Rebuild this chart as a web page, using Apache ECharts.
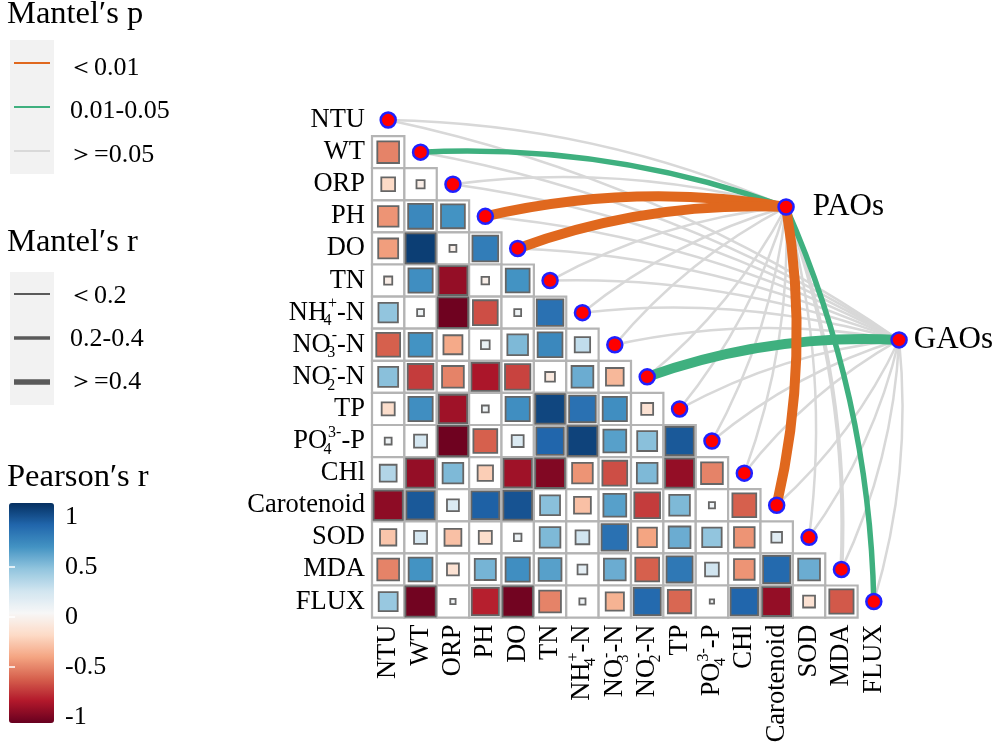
<!DOCTYPE html>
<html><head><meta charset="utf-8">
<script src="https://cdn.jsdelivr.net/npm/echarts@6/dist/echarts.min.js"></script>
<style>html,body{margin:0;padding:0;background:#fff}#c{width:1000px;height:745px}</style>
</head><body><div id="c"></div>
<script>
// ---------------- data ----------------
const variables = ['NTU','WT','ORP','PH','DO','TN','NH4+-N','NO3--N','NO2--N','TP','PO43--P','CHl','Carotenoid','SOD','MDA','FLUX'];
// Pearson's r, lower triangle: row i holds r(i, j) for j < i
const pearsonR = [
  [],
  [-0.5],
  [-0.2, -0.07],
  [-0.45, 0.65, 0.6],
  [-0.42, 0.95, -0.05, 0.7],
  [-0.07, 0.62, -0.88, -0.06, 0.6],
  [0.4, 0.05, -0.98, -0.65, 0.05, 0.75],
  [-0.6, 0.6, -0.38, 0.08, 0.45, 0.65, 0.25],
  [0.42, -0.7, -0.5, -0.82, -0.68, -0.1, 0.5, -0.33],
  [-0.18, 0.62, -0.85, 0.05, 0.62, 0.92, 0.75, 0.62, -0.15],
  [0.05, 0.18, -0.98, -0.6, 0.15, 0.8, 0.93, 0.55, 0.42, 0.85],
  [0.3, -0.88, 0.45, -0.25, -0.85, -0.93, -0.45, -0.65, 0.45, -0.88, -0.5],
  [-0.9, 0.85, 0.15, 0.82, 0.87, 0.42, -0.3, 0.55, -0.7, 0.45, 0.04, -0.6],
  [-0.28, 0.18, -0.3, -0.18, 0.06, 0.45, 0.2, 0.75, -0.4, 0.5, 0.4, -0.45, 0.12],
  [-0.5, 0.6, -0.15, 0.47, 0.62, 0.55, 0.1, 0.5, -0.6, 0.72, 0.2, -0.45, 0.78, 0.5],
  [0.38, -0.97, 0.03, -0.78, -0.97, -0.5, 0.04, -0.35, 0.78, -0.58, 0.02, 0.8, -0.88, -0.15, -0.62]
];
const mantelNodes = ['PAOs', 'GAOs'];
// node anchor in grid units (column index, row index)
const nodeAnchor = [[12.29, 2.71], [15.78, 6.85]];
// Mantel's p class per variable: 0 '<0.01', 1 '0.01-0.05', 2 '>=0.05'
const mantelPClass = [
  [2, 1, 2, 0, 0, 2, 2, 2, 2, 2, 2, 2, 0, 2, 2, 1],
  [2, 2, 2, 2, 2, 2, 2, 2, 1, 2, 2, 2, 2, 2, 2, 2]
];
// Mantel's r class per variable: 0 '<0.2', 1 '0.2-0.4', 2 '>=0.4'
const mantelRClass = [
  [0, 1, 0, 2, 2, 0, 0, 0, 0, 0, 0, 0, 2, 0, 1, 1],
  [0, 0, 0, 0, 0, 0, 0, 0, 2, 0, 0, 0, 0, 0, 0, 0]
];
const pClassLabels = ['＜0.01', '0.01-0.05', '＞=0.05'];
const rClassLabels = ['＜0.2', '0.2-0.4', '＞=0.4'];
const colorbarTicks = [-1, -0.5, 0, 0.5, 1];

// ---------------- styling ----------------
const FONT = 'Liberation Serif';
const pColors = ['#E0681E', '#3FB07F', '#D8D8D8'];
const rWidths = [2.5, 5.5, 10];
const rdbu = ['#67001F','#B2182B','#D6604D','#F4A582','#FDDBC7','#F7F7F7','#D1E5F0','#92C5DE','#4393C3','#2166AC','#053061'];
const G = {left: 372, top: 104, width: 518, height: 513.6};
const N = variables.length;
const cellW = G.width / N, cellH = G.height / N;

const chem = {
  'NH4+-N': ['NH', '4', '+', '-N'],
  'NO3--N': ['NO', '3', '-', '-N'],
  'NO2--N': ['NO', '2', '-', '-N'],
  'PO43--P': ['PO', '4', '3-', '-P']
};
function fmt(name) {
  const c = chem[name];
  if (!c) return '{t|' + name + '}';
  return '{t|' + c[0] + '}{sb|' + c[1] + '}{sp|' + c[2] + '}{t|' + c[3] + '}';
}
const rich = {
  t: {fontSize: 26.5, fontFamily: FONT, color: '#000', lineHeight: 33},
  sb: {fontSize: 16, fontFamily: FONT, color: '#000', lineHeight: 16, verticalAlign: 'bottom', width: 1, align: 'left'},
  sp: {fontSize: 16, fontFamily: FONT, color: '#000', lineHeight: 16, verticalAlign: 'top'}
};

// ---------------- build series data ----------------
const cellData = [], squareData = [], diagData = [];
for (let i = 0; i < N; i++) {
  diagData.push([i, i]);
  pearsonR[i].forEach((r, j) => {
    cellData.push([j, i]);
    squareData.push([j, i, r]);
  });
}
const lineData = [[], [], []];
mantelNodes.forEach((nm, n) => {
  const a = nodeAnchor[n];
  for (let i = 0; i < N; i++) {
    const dx = (i - a[0]) * cellW, dy = (i - a[1]) * cellH;
    const cv = (dx + dy) > 0 ? 0.1 : -0.1;
    const pc = mantelPClass[n][i];
    lineData[pc].push({
      coords: [a, [i, i]],
      lineStyle: {width: rWidths[mantelRClass[n][i]] * (pc === 2 && mantelRClass[n][i] === 1 ? 0.75 : 1), curveness: cv}
    });
  }
});
const lineSeries = [2, 1, 0].map(pc => ({
  type: 'lines', coordinateSystem: 'cartesian2d', xAxisIndex: 0, yAxisIndex: 0,
  clip: false, z: 1, silent: true,
  lineStyle: {color: pColors[pc], opacity: 1, cap: 'butt'},
  data: lineData[pc]
}));

const TXT = (x, y, text, size) => ({type: 'text', x: x, y: y,
  style: {text: text, font: size + 'px "Liberation Serif"', fill: '#000', verticalAlign: 'middle'}});

const chart = echarts.init(document.getElementById('c'));
const option = {
  animation: false,
  backgroundColor: '#fff',
  grid: [
    Object.assign({outerBoundsMode: 'none', containLabel: false}, G),
    {left: 9, top: 517, width: 45, height: 200, outerBoundsMode: 'none'}
  ],
  xAxis: [
    {type: 'value', gridIndex: 0, min: -0.5, max: 15.5, show: false, position: 'top'},
    {type: 'category', gridIndex: 0, data: variables, position: 'bottom',
      axisLine: {show: false}, axisTick: {show: false},
      axisLabel: {interval: 0, rotate: 90, margin: 7, formatter: fmt, rich: rich}},
    {type: 'value', gridIndex: 1, show: false}
  ],
  yAxis: [
    {type: 'value', gridIndex: 0, min: -0.5, max: 15.5, inverse: true, show: false, position: 'right'},
    {type: 'category', gridIndex: 0, data: variables, inverse: true, position: 'left',
      axisLine: {show: false}, axisTick: {show: false},
      axisLabel: {interval: 0, margin: 7, formatter: fmt, rich: rich}},
    {type: 'value', gridIndex: 1, min: -1, max: 1, interval: 0.5, position: 'right', z: 20,
      axisLine: {show: false}, splitLine: {show: false},
      axisTick: {show: true, inside: true, length: 6, customValues: [-0.5, 0, 0.5], lineStyle: {color: '#fff', width: 1.5}},
      axisLabel: {customValues: colorbarTicks, margin: 11, fontSize: 26, fontFamily: FONT, color: '#000',
        formatter: v => String(v)}},
    {type: 'value', gridIndex: 1, min: -1, max: 1, interval: 0.5, position: 'left', z: 20,
      axisLine: {show: false}, splitLine: {show: false}, axisLabel: {show: false},
      axisTick: {show: true, inside: true, length: 6, customValues: [-0.5, 0, 0.5], lineStyle: {color: '#fff', width: 1.5}}}
  ],
  visualMap: {
    type: 'continuous', min: -1, max: 1, dimension: 2, seriesIndex: 4, z: 2,
    inRange: {color: rdbu}, calculable: false, hoverLink: false,
    left: 9, top: 503, itemWidth: 45, itemHeight: 220, padding: 0, text: null, showLabel: false
  },
  series: lineSeries.concat([
    {type: 'scatter', xAxisIndex: 0, yAxisIndex: 0, z: 2, silent: true, symbol: 'rect',
      symbolSize: [cellW, cellH],
      itemStyle: {color: '#fff', borderColor: '#b4b4b4', borderWidth: 2.2, opacity: 1},
      data: cellData},
    {type: 'scatter', xAxisIndex: 0, yAxisIndex: 0, z: 3, silent: true, symbol: 'rect',
      symbolSize: v => Math.sqrt(Math.abs(v[2])) * cellW * 0.95,
      itemStyle: {borderColor: '#666666', borderWidth: 1.8, opacity: 1},
      data: squareData},
    {type: 'scatter', xAxisIndex: 0, yAxisIndex: 0, z: 5, silent: true, symbol: 'circle', symbolSize: 15,
      itemStyle: {color: '#ff0000', borderColor: '#2020ff', borderWidth: 2.5, opacity: 1},
      data: diagData},
    {type: 'scatter', xAxisIndex: 0, yAxisIndex: 0, z: 5, silent: true, clip: false, symbol: 'circle', symbolSize: 15,
      itemStyle: {color: '#ff0000', borderColor: '#2020ff', borderWidth: 2.5, opacity: 1},
      label: {show: true, position: 'right', fontSize: 31, fontFamily: FONT, color: '#000', formatter: p => p.name},
      data: mantelNodes.map((nm, n) => ({name: nm, value: nodeAnchor[n], label: {distance: n === 0 ? 18 : 6}}))}
  ]),
  graphic: [
    TXT(7, 14.5, 'Mantel′s p', 32.5),
    {type: 'rect', shape: {x: 10, y: 40, width: 44, height: 134}, style: {fill: '#f2f2f2'}},
    {type: 'line', shape: {x1: 14, y1: 63, x2: 50, y2: 63}, style: {stroke: pColors[0], lineWidth: 2}},
    {type: 'line', shape: {x1: 14, y1: 107, x2: 50, y2: 107}, style: {stroke: pColors[1], lineWidth: 2}},
    {type: 'line', shape: {x1: 14, y1: 151, x2: 50, y2: 151}, style: {stroke: '#d9d9d9', lineWidth: 2}},
    TXT(68, 68, pClassLabels[0], 26),
    TXT(70, 111, pClassLabels[1], 26),
    TXT(68, 155, pClassLabels[2], 26),
    TXT(7, 242.5, 'Mantel′s r', 32.5),
    {type: 'rect', shape: {x: 10, y: 272, width: 44, height: 133}, style: {fill: '#f2f2f2'}},
    {type: 'line', shape: {x1: 14, y1: 294, x2: 50, y2: 294}, style: {stroke: '#5a5a5a', lineWidth: 2}},
    {type: 'line', shape: {x1: 14, y1: 338, x2: 50, y2: 338}, style: {stroke: '#5a5a5a', lineWidth: 3.5}},
    {type: 'line', shape: {x1: 14, y1: 382, x2: 50, y2: 382}, style: {stroke: '#5a5a5a', lineWidth: 5.5}},
    TXT(68, 296, rClassLabels[0], 26),
    TXT(70, 339, rClassLabels[1], 26),
    TXT(68, 382, rClassLabels[2], 26),
    TXT(7, 477.5, 'Pearson′s r', 32.5)
  ]
};
chart.setOption(option);
</script>
</body></html>
